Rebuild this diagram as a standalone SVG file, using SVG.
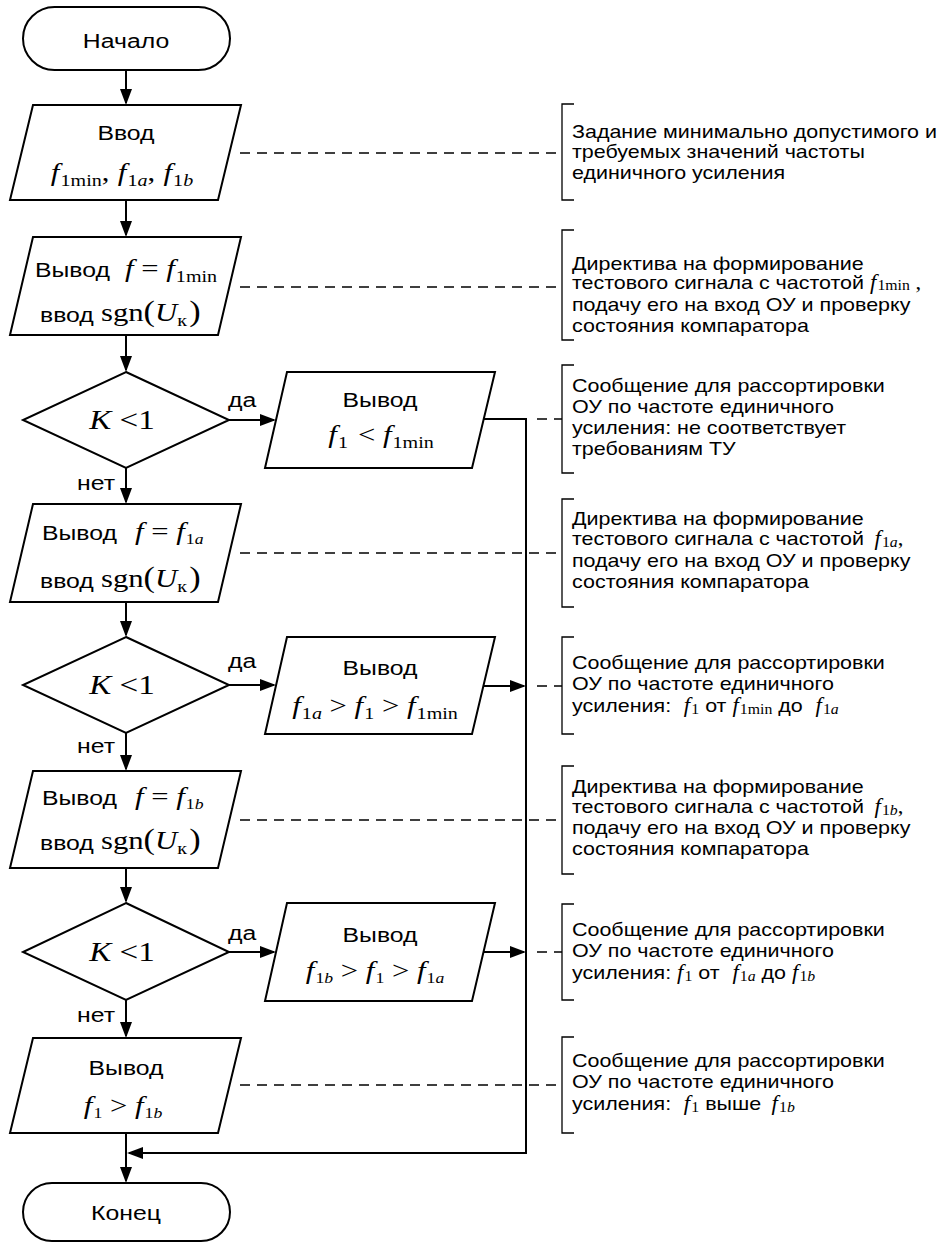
<svg xmlns="http://www.w3.org/2000/svg" width="937" height="1243" viewBox="0 0 937 1243">
<defs>
<marker id="ah" markerWidth="16" markerHeight="12" refX="14" refY="6" orient="auto" markerUnits="userSpaceOnUse"><path d="M0,0 L16,6 L0,12 Z" fill="#000"/></marker>
</defs>
<style>
.s{fill:#fff;stroke:#000;stroke-width:2}
.c{fill:none;stroke:#000;stroke-width:2}
.d{fill:none;stroke:#000;stroke-width:1.3;stroke-dasharray:10 7}
.b{fill:none;stroke:#000;stroke-width:1.3}
.t{font-family:"Liberation Sans",Arial,sans-serif;font-size:21px;fill:#000}
.a{font-family:"Liberation Sans",Arial,sans-serif;font-size:19px;fill:#000}
.mm{font-family:"Liberation Serif","Times New Roman",serif;font-size:26px;fill:#000}
.ma{font-family:"Liberation Serif","Times New Roman",serif;font-size:20px;fill:#000}
.k{font-family:"Liberation Serif","Times New Roman",serif;font-size:28px;fill:#000}
.i{font-style:italic}
.sb{font-size:17px}
.sa{font-size:15px}
.sn{font-size:14px}
.p{font-size:29px}
</style>
<rect width="937" height="1243" fill="#fff"/>

<g id="connectors">
<line class="c" x1="126" y1="70" x2="126" y2="103" marker-end="url(#ah)"/>
<line class="c" x1="126" y1="200" x2="126" y2="235" marker-end="url(#ah)"/>
<line class="c" x1="126" y1="335" x2="126" y2="370" marker-end="url(#ah)"/>
<line class="c" x1="126" y1="468" x2="126" y2="502" marker-end="url(#ah)"/>
<line class="c" x1="126" y1="602" x2="126" y2="635" marker-end="url(#ah)"/>
<line class="c" x1="126" y1="733" x2="126" y2="769" marker-end="url(#ah)"/>
<line class="c" x1="126" y1="868" x2="126" y2="901" marker-end="url(#ah)"/>
<line class="c" x1="126" y1="1000" x2="126" y2="1036" marker-end="url(#ah)"/>
<line class="c" x1="126" y1="1133" x2="126" y2="1181" marker-end="url(#ah)"/>
<line class="c" x1="229" y1="420" x2="274" y2="420" marker-end="url(#ah)"/>
<line class="c" x1="229" y1="685" x2="274" y2="685" marker-end="url(#ah)"/>
<line class="c" x1="229" y1="952" x2="274" y2="952" marker-end="url(#ah)"/>
<polyline class="c" points="484,419 526,419 526,1153 129,1153" marker-end="url(#ah)"/>
<line class="c" x1="484" y1="686" x2="524" y2="686" marker-end="url(#ah)"/>
<line class="c" x1="484" y1="952" x2="524" y2="952" marker-end="url(#ah)"/>
<line class="d" x1="240" y1="153" x2="562" y2="153"/>
<line class="d" x1="240" y1="287" x2="562" y2="287"/>
<line class="d" x1="537" y1="419" x2="562" y2="419"/>
<line class="d" x1="240" y1="553" x2="562" y2="553"/>
<line class="d" x1="537" y1="686" x2="562" y2="686"/>
<line class="d" x1="240" y1="820" x2="562" y2="820"/>
<line class="d" x1="537" y1="952" x2="562" y2="952"/>
<line class="d" x1="240" y1="1085" x2="562" y2="1085"/>
<text class="t" transform="translate(77,490) scale(1.18,1)">нет</text>
<text class="t" transform="translate(77,753) scale(1.18,1)">нет</text>
<text class="t" transform="translate(77,1022) scale(1.18,1)">нет</text>
<text class="t" transform="translate(228,407) scale(1.18,1)">да</text>
<text class="t" transform="translate(228,668) scale(1.18,1)">да</text>
<text class="t" transform="translate(228,940) scale(1.18,1)">да</text>
</g>

<g id="start">
<rect class="s" x="23" y="7" width="207" height="63" rx="31.5"/>
<text class="t" text-anchor="middle" transform="translate(126,48) scale(1.18,1)">Начало</text>
</g>

<g id="input">
<polygon class="s" points="33,105 241,105 218,200 10,200"/>
<text class="t" text-anchor="middle" transform="translate(126,140) scale(1.18,1)">Ввод</text>
<text class="mm" text-anchor="middle" transform="translate(122,181) scale(1.18,1)"><tspan class="i">f</tspan><tspan class="sb" dy="5" dx="1">1min</tspan><tspan dy="-5">,</tspan><tspan class="i" dx="7">f</tspan><tspan class="sb" dy="5" dx="1">1</tspan><tspan class="sb i">a</tspan><tspan dy="-5">,</tspan><tspan class="i" dx="7">f</tspan><tspan class="sb" dy="5" dx="1">1</tspan><tspan class="sb i">b</tspan></text>
</g>

<g id="out-fmin">
<polygon class="s" points="33,237 241,237 218,335 10,335"/>
<text class="t" transform="translate(35,277) scale(1.18,1)">Вывод</text>
<text class="mm" transform="translate(125,277) scale(1.18,1)"><tspan class="i">f</tspan> = <tspan class="i">f</tspan><tspan class="sb" dy="5" dx="1">1min</tspan></text>
<text class="t" transform="translate(40,322) scale(1.18,1)">ввод</text>
<text class="mm" transform="translate(101,321) scale(1.18,1)">sgn<tspan class="p">(</tspan><tspan class="i">U</tspan><tspan class="sb" dy="5">к</tspan><tspan class="p" dy="-5" dx="2">)</tspan></text>
</g>

<g id="dec1">
<polygon class="s" points="126,372 229,420 126,468 23,420"/>
<text class="k" text-anchor="middle" transform="translate(122,429) scale(1.18,1)"><tspan class="i">K</tspan> &lt;1</text>
</g>

<g id="out-low">
<polygon class="s" points="287,372 495,372 472,468 265,468"/>
<text class="t" text-anchor="middle" transform="translate(380,407) scale(1.18,1)">Вывод</text>
<text class="mm" text-anchor="middle" transform="translate(381,443) scale(1.18,1)"><tspan class="i">f</tspan><tspan class="sb" dy="5" dx="1">1</tspan><tspan dy="-5" dx="2"> &lt; </tspan><tspan class="i">f</tspan><tspan class="sb" dy="5" dx="1">1min</tspan></text>
</g>

<g id="out-fa">
<polygon class="s" points="33,504 241,504 218,602 10,602"/>
<text class="t" transform="translate(42,540) scale(1.18,1)">Вывод</text>
<text class="mm" transform="translate(135,540) scale(1.18,1)"><tspan class="i">f</tspan> = <tspan class="i">f</tspan><tspan class="sa" dy="4" dx="1">1<tspan class="i">a</tspan></tspan></text>
<text class="t" transform="translate(40,588) scale(1.18,1)">ввод</text>
<text class="mm" transform="translate(101,587) scale(1.18,1)">sgn<tspan class="p">(</tspan><tspan class="i">U</tspan><tspan class="sb" dy="5">к</tspan><tspan class="p" dy="-5" dx="2">)</tspan></text>
</g>

<g id="dec2">
<polygon class="s" points="126,637 229,685 126,733 23,685"/>
<text class="k" text-anchor="middle" transform="translate(122,694) scale(1.18,1)"><tspan class="i">K</tspan> &lt;1</text>
</g>

<g id="out-mid">
<polygon class="s" points="287,637 495,637 472,734 265,734"/>
<text class="t" text-anchor="middle" transform="translate(380,675) scale(1.18,1)">Вывод</text>
<text class="mm" text-anchor="middle" transform="translate(375,714) scale(1.18,1)"><tspan class="i">f</tspan><tspan class="sb" dy="5" dx="1">1<tspan class="i">a</tspan></tspan><tspan dy="-5"> &gt; </tspan><tspan class="i">f</tspan><tspan class="sb" dy="5" dx="1">1</tspan><tspan dy="-5"> &gt; </tspan><tspan class="i">f</tspan><tspan class="sb" dy="5" dx="1">1min</tspan></text>
</g>

<g id="out-fb">
<polygon class="s" points="33,771 241,771 218,868 10,868"/>
<text class="t" transform="translate(42,805) scale(1.18,1)">Вывод</text>
<text class="mm" transform="translate(135,805) scale(1.18,1)"><tspan class="i">f</tspan> = <tspan class="i">f</tspan><tspan class="sa" dy="4" dx="1">1<tspan class="i">b</tspan></tspan></text>
<text class="t" transform="translate(40,850) scale(1.18,1)">ввод</text>
<text class="mm" transform="translate(101,849) scale(1.18,1)">sgn<tspan class="p">(</tspan><tspan class="i">U</tspan><tspan class="sb" dy="5">к</tspan><tspan class="p" dy="-5" dx="2">)</tspan></text>
</g>

<g id="dec3">
<polygon class="s" points="126,903 229,952 126,1000 23,952"/>
<text class="k" text-anchor="middle" transform="translate(122,961) scale(1.18,1)"><tspan class="i">K</tspan> &lt;1</text>
</g>

<g id="out-high">
<polygon class="s" points="287,903 495,903 472,1001 265,1001"/>
<text class="t" text-anchor="middle" transform="translate(380,942) scale(1.18,1)">Вывод</text>
<text class="mm" text-anchor="middle" transform="translate(375,979) scale(1.18,1)"><tspan class="i">f</tspan><tspan class="sa" dy="4" dx="1">1<tspan class="i">b</tspan></tspan><tspan dy="-4"> &gt; </tspan><tspan class="i">f</tspan><tspan class="sa" dy="4" dx="1">1</tspan><tspan dy="-4"> &gt; </tspan><tspan class="i">f</tspan><tspan class="sa" dy="4" dx="1">1<tspan class="i">a</tspan></tspan></text>
</g>

<g id="out-above">
<polygon class="s" points="33,1038 241,1038 218,1133 10,1133"/>
<text class="t" text-anchor="middle" transform="translate(126,1075) scale(1.18,1)">Вывод</text>
<text class="mm" text-anchor="middle" transform="translate(123,1114) scale(1.18,1)"><tspan class="i">f</tspan><tspan class="sa" dy="4" dx="1">1</tspan><tspan dy="-4"> &gt; </tspan><tspan class="i">f</tspan><tspan class="sa" dy="4" dx="1">1<tspan class="i">b</tspan></tspan></text>
</g>

<g id="end">
<rect class="s" x="23" y="1183" width="207" height="58" rx="29"/>
<text class="t" text-anchor="middle" transform="translate(126,1220) scale(1.18,1)">Конец</text>
</g>

<g id="note1">
<polyline class="b" points="574,104 562,104 562,200 574,200"/>
<text class="a" transform="translate(572,138) scale(1.13,1)">Задание минимально допустимого и</text>
<text class="a" transform="translate(572,158) scale(1.13,1)">требуемых значений частоты</text>
<text class="a" transform="translate(572,179) scale(1.13,1)">единичного усиления</text>
</g>

<g id="note2">
<polyline class="b" points="574,230 562,230 562,340 574,340"/>
<text class="a" transform="translate(572,270) scale(1.13,1)">Директива на формирование</text>
<text class="a" transform="translate(572,289) scale(1.13,1)">тестового сигнала с частотой <tspan class="ma i">f</tspan><tspan class="ma sn" dy="1" dx="1">1min</tspan><tspan class="ma" dy="-1"> ,</tspan></text>
<text class="a" transform="translate(572,311) scale(1.13,1)">подачу его на вход ОУ и проверку</text>
<text class="a" transform="translate(572,332) scale(1.13,1)">состояния компаратора</text>
</g>

<g id="note3">
<polyline class="b" points="574,365 562,365 562,473 574,473"/>
<text class="a" transform="translate(572,392) scale(1.13,1)">Сообщение для рассортировки</text>
<text class="a" transform="translate(572,413) scale(1.13,1)">ОУ по частоте единичного</text>
<text class="a" transform="translate(572,434) scale(1.13,1)">усиления: не соответствует</text>
<text class="a" transform="translate(572,455) scale(1.13,1)">требованиям ТУ</text>
</g>

<g id="note4">
<polyline class="b" points="574,499 562,499 562,607 574,607"/>
<text class="a" transform="translate(572,525) scale(1.13,1)">Директива на формирование</text>
<text class="a" transform="translate(572,545) scale(1.13,1)">тестового сигнала с частотой <tspan class="ma i" dx="4">f</tspan><tspan class="ma sn" dy="2" dx="1">1<tspan class="i">a</tspan></tspan><tspan class="ma" dy="-2">,</tspan></text>
<text class="a" transform="translate(572,567) scale(1.13,1)">подачу его на вход ОУ и проверку</text>
<text class="a" transform="translate(572,588) scale(1.13,1)">состояния компаратора</text>
</g>

<g id="note5">
<polyline class="b" points="574,637 562,637 562,734 574,734"/>
<text class="a" transform="translate(572,669) scale(1.13,1)">Сообщение для рассортировки</text>
<text class="a" transform="translate(572,690) scale(1.13,1)">ОУ по частоте единичного</text>
<text class="a" transform="translate(572,712) scale(1.13,1)">усиления: <tspan class="ma i" dx="6">f</tspan><tspan class="ma sn" dy="2" dx="1">1</tspan><tspan dy="-2"> от </tspan><tspan class="ma i">f</tspan><tspan class="ma sn" dy="2" dx="1">1min</tspan><tspan dy="-2"> до </tspan><tspan class="ma i" dx="6">f</tspan><tspan class="ma sn" dy="2" dx="1">1<tspan class="i">a</tspan></tspan></text>
</g>

<g id="note6">
<polyline class="b" points="574,766 562,766 562,874 574,874"/>
<text class="a" transform="translate(572,793) scale(1.13,1)">Директива на формирование</text>
<text class="a" transform="translate(572,813) scale(1.13,1)">тестового сигнала с частотой <tspan class="ma i" dx="4">f</tspan><tspan class="ma sn" dy="2" dx="1">1<tspan class="i">b</tspan></tspan><tspan class="ma" dy="-2">,</tspan></text>
<text class="a" transform="translate(572,834) scale(1.13,1)">подачу его на вход ОУ и проверку</text>
<text class="a" transform="translate(572,855) scale(1.13,1)">состояния компаратора</text>
</g>

<g id="note7">
<polyline class="b" points="574,904 562,904 562,1000 574,1000"/>
<text class="a" transform="translate(572,936) scale(1.13,1)">Сообщение для рассортировки</text>
<text class="a" transform="translate(572,957) scale(1.13,1)">ОУ по частоте единичного</text>
<text class="a" transform="translate(572,979) scale(1.13,1)">усиления: <tspan class="ma i">f</tspan><tspan class="ma sn" dy="2" dx="1">1</tspan><tspan dy="-2"> от </tspan><tspan class="ma i" dx="6">f</tspan><tspan class="ma sn" dy="2" dx="1">1<tspan class="i">a</tspan></tspan><tspan dy="-2"> до </tspan><tspan class="ma i">f</tspan><tspan class="ma sn" dy="2" dx="1">1<tspan class="i">b</tspan></tspan></text>
</g>

<g id="note8">
<polyline class="b" points="574,1037 562,1037 562,1133 574,1133"/>
<text class="a" transform="translate(572,1067) scale(1.13,1)">Сообщение для рассортировки</text>
<text class="a" transform="translate(572,1088) scale(1.13,1)">ОУ по частоте единичного</text>
<text class="a" transform="translate(572,1110) scale(1.13,1)">усиления: <tspan class="ma i" dx="6">f</tspan><tspan class="ma sn" dy="2" dx="1">1</tspan><tspan dy="-2"> выше </tspan><tspan class="ma i" dx="4">f</tspan><tspan class="ma sn" dy="2" dx="1">1<tspan class="i">b</tspan></tspan></text>
</g>
</svg>
